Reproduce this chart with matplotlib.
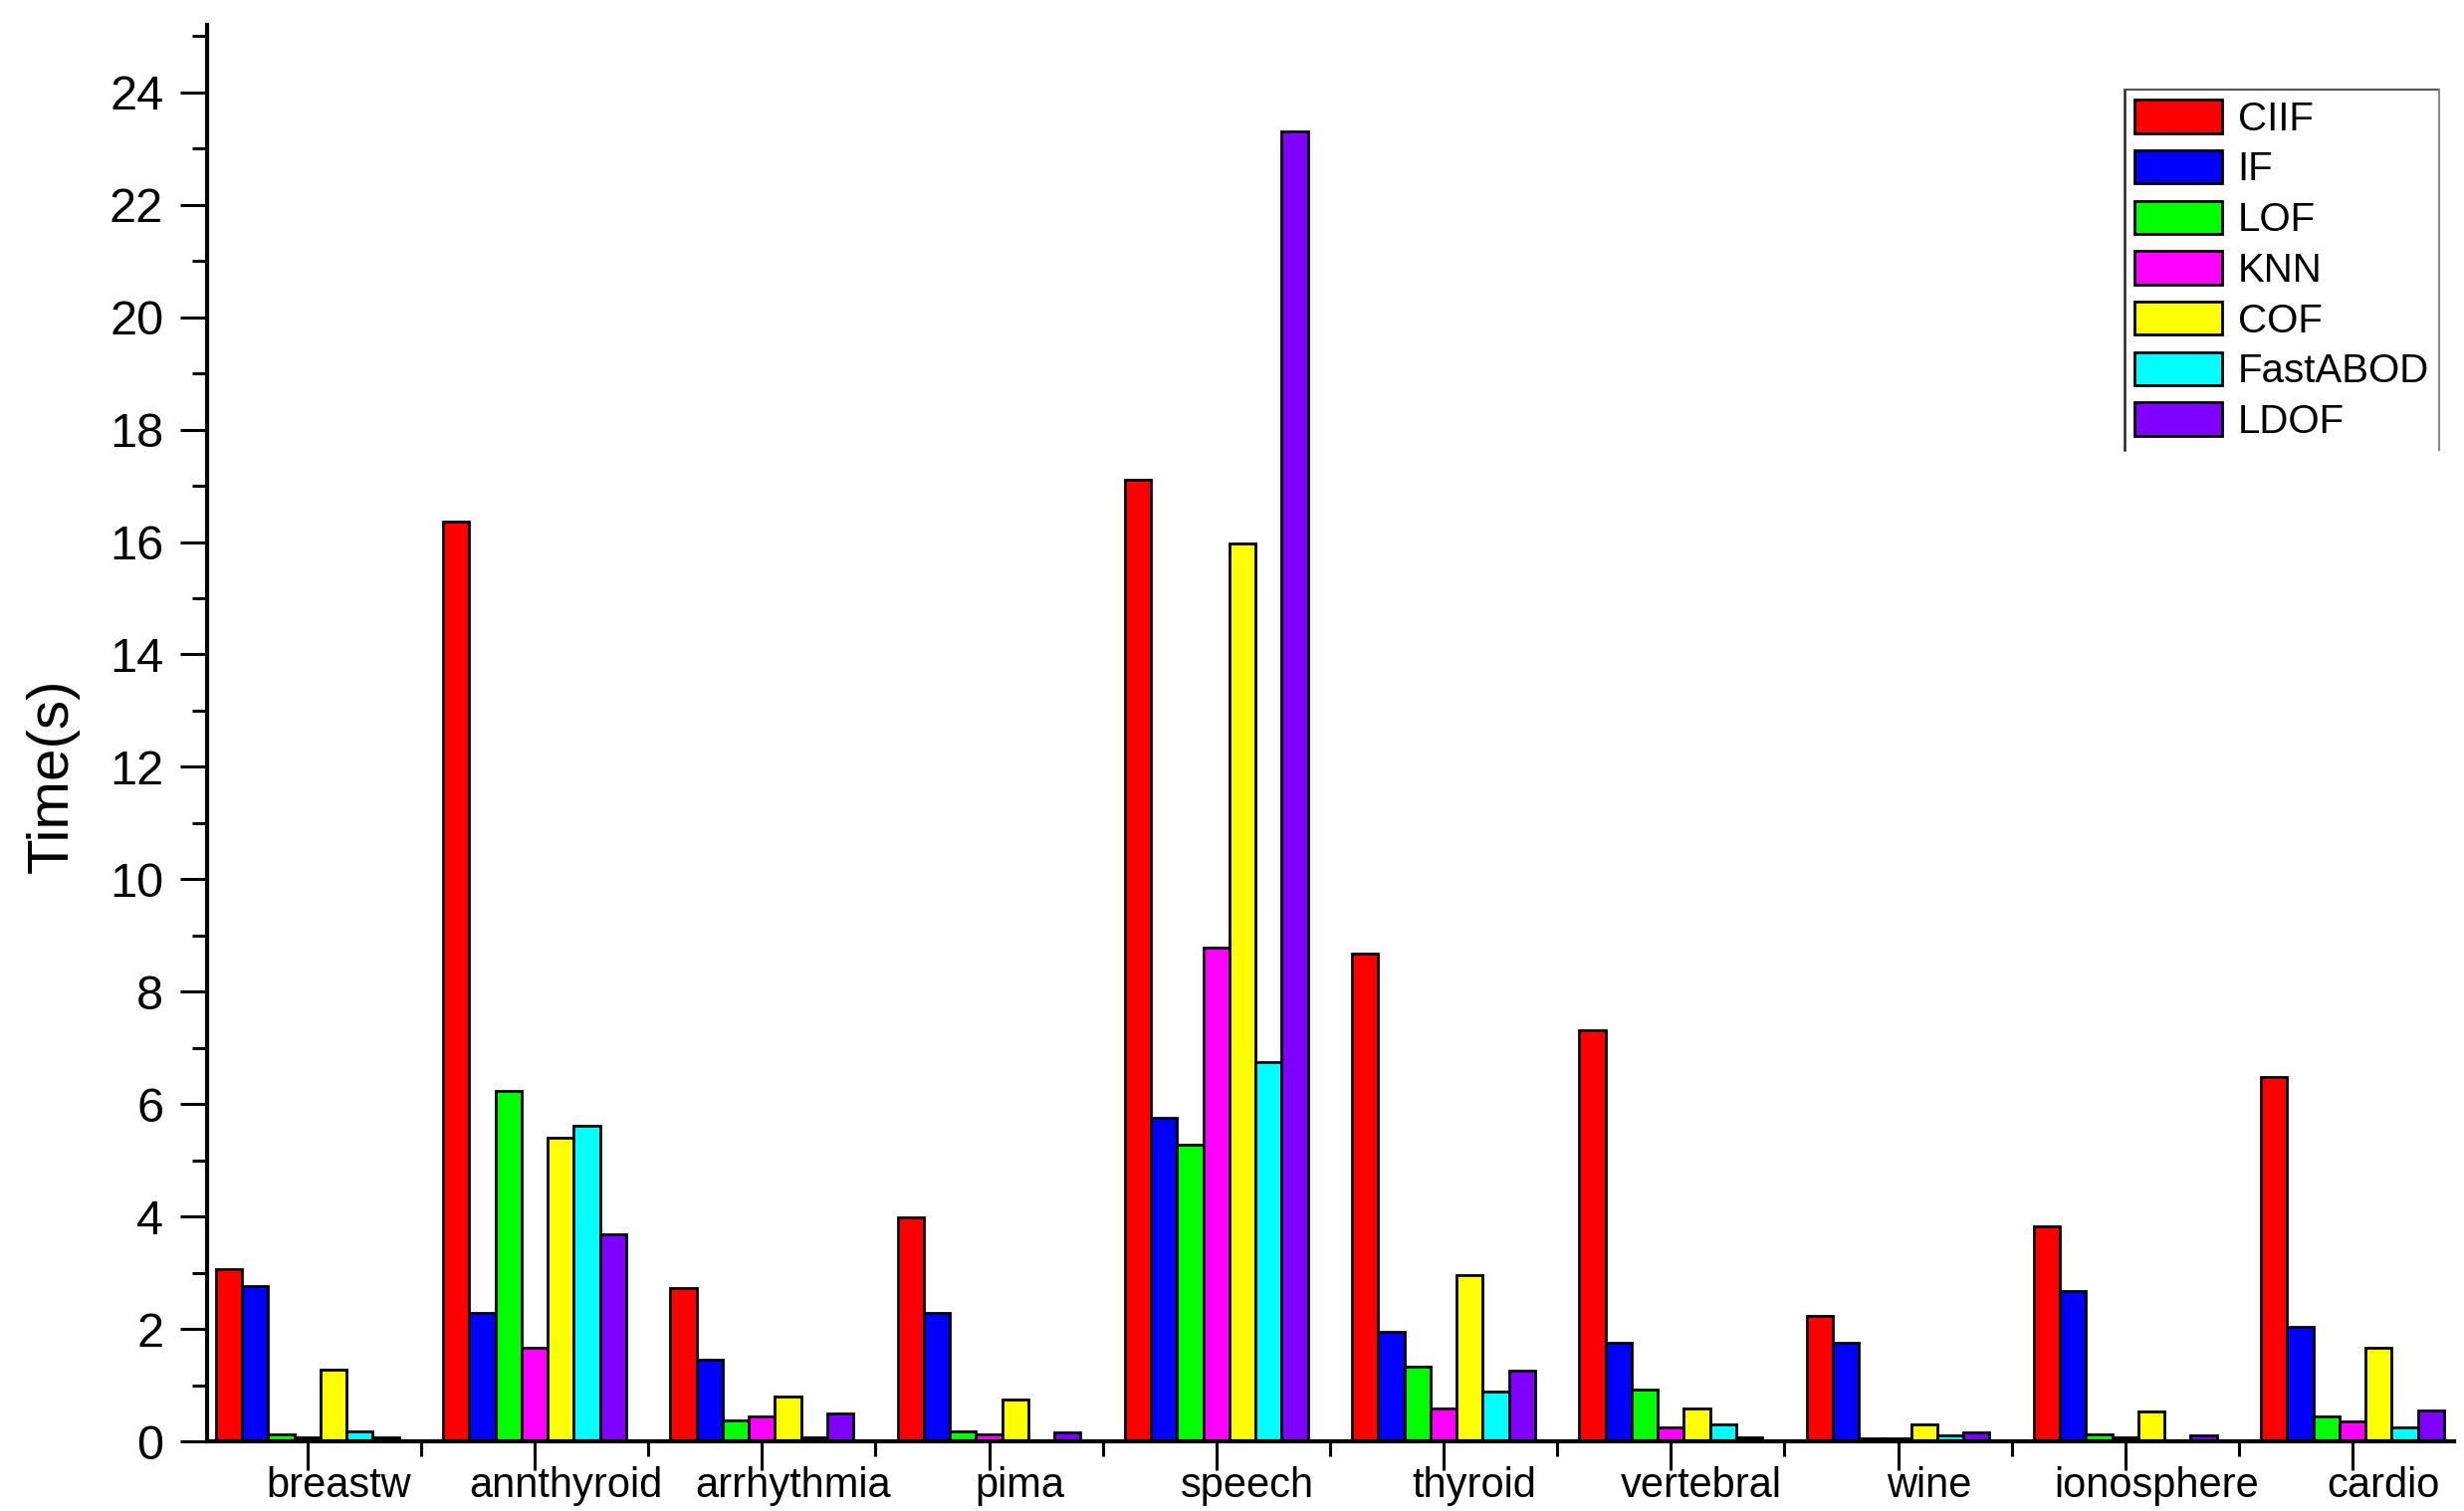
import matplotlib

matplotlib.use("Agg")
import matplotlib.pyplot as plt
import numpy as np
from matplotlib.lines import Line2D
from matplotlib.ticker import MultipleLocator
from matplotlib.transforms import ScaledTranslation

plt.rcParams["font.family"] = ["Liberation Sans", "DejaVu Sans"]

datasets = ["breastw", "annthyroid", "arrhythmia", "pima", "speech",
            "thyroid", "vertebral", "wine", "ionosphere", "cardio"]
methods = ["CIIF", "IF", "LOF", "KNN", "COF", "FastABOD", "LDOF"]
colors = ["#FF0000", "#0000FF", "#00FF00", "#FF00FF", "#FFFF00", "#00FFFF", "#8000FF"]

# run time (s) per method, one value per dataset
ciif = [3.06, 16.36, 2.72, 3.98, 17.11, 8.68, 7.31, 2.24, 3.83, 6.48]
iforest = [2.76, 2.29, 1.46, 2.28, 5.75, 1.94, 1.75, 1.75, 2.68, 2.04]
lof = [0.12, 6.24, 0.37, 0.17, 5.28, 1.32, 0.92, 0.05, 0.12, 0.44]
knn = [0.07, 1.66, 0.44, 0.12, 8.79, 0.58, 0.25, 0.05, 0.08, 0.35]
cof = [1.27, 5.41, 0.79, 0.74, 15.97, 2.96, 0.59, 0.30, 0.54, 1.66]
fastabod = [0.17, 5.61, 0.08, 0.02, 6.75, 0.88, 0.30, 0.11, 0.02, 0.24]
ldof = [0.08, 3.69, 0.49, 0.16, 23.31, 1.26, 0.07, 0.16, 0.11, 0.55]

series = [ciif, iforest, lof, knn, cof, fastabod, ldof]

fig = plt.figure(figsize=(24.75, 15.18), dpi=100)
ax = fig.add_axes([0.0840, 0.0461, 0.9120, 0.9374])

x = np.arange(len(datasets))
width = 0.115
for j, (name, vals, col) in enumerate(zip(methods, series, colors)):
    ax.bar(x + (j - 3) * width, vals, width, color=col, edgecolor="black",
           linewidth=2.0, label=name, zorder=2)

ax.set_xlim(-0.442, 9.447)
ax.set_ylim(0, 25.2)

for side in ("top", "right"):
    ax.spines[side].set_visible(False)
for side in ("left", "bottom"):
    ax.spines[side].set_linewidth(3.0)

ax.yaxis.set_major_locator(MultipleLocator(2))
ax.yaxis.set_minor_locator(MultipleLocator(1))
ax.tick_params(axis="y", which="major", length=19.5, width=2.2, labelsize=35, pad=12)
ax.tick_params(axis="y", which="minor", length=11, width=2.2)

ax.set_xticks(x)
ax.set_xticks(x[:-1] + 0.5, minor=True)
ax.set_xticklabels(datasets)
ax.tick_params(axis="x", which="major", length=21, width=2.2, labelsize=30, pad=-3)
ax.tick_params(axis="x", which="minor", length=11, width=2.2)
shift = ScaledTranslation(0.31, 0, fig.dpi_scale_trans)
for lab in ax.get_xticklabels():
    lab.set_transform(lab.get_transform() + shift)

ax.set_ylabel("Time(s)", fontsize=42)
ax.yaxis.set_label_coords(-0.0567, 0.47)

leg = ax.legend(loc="upper right", bbox_to_anchor=(0.9907, 0.942),
                bbox_transform=fig.transFigure, borderaxespad=0, fontsize=29,
                handlelength=2.2, handleheight=0.9, handletextpad=0.38,
                labelspacing=0.3, borderpad=0.3, frameon=False)

# legend box drawn by hand: left and top dark, right grey, no bottom edge
fig.canvas.draw()
bb = leg.get_window_extent().transformed(fig.transFigure.inverted())
x0, x1 = bb.x0 + 0.001, bb.x1 - 0.001
y0, y1 = bb.y0 + 0.002, bb.y1 - 0.001
fig.add_artist(Line2D([x0, x0], [y0, y1], color="#222222", lw=1.8))
fig.add_artist(Line2D([x0, x1], [y1, y1], color="#555555", lw=1.5))
fig.add_artist(Line2D([x1, x1], [y0, y1], color="#888888", lw=1.5))

fig.savefig("out.png", dpi=100)
